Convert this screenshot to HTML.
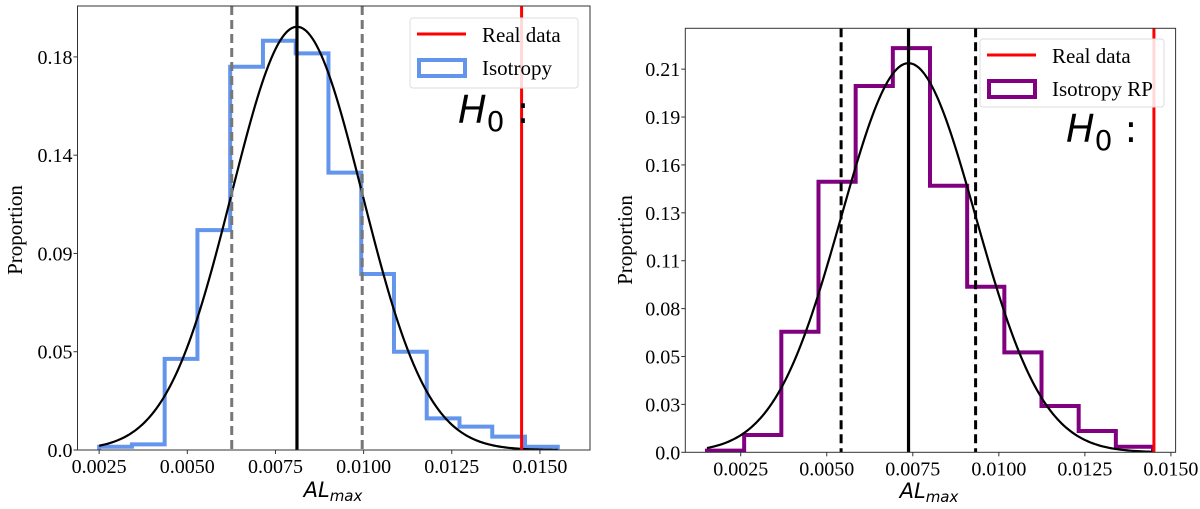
<!DOCTYPE html>
<html><head><meta charset="utf-8"><style>
html,body{margin:0;padding:0;background:#fff;}
svg{display:block;}
.tick{font-family:"Liberation Serif",serif;font-size:20px;fill:#000;}
.leg{font-family:"Liberation Serif",serif;font-size:21px;fill:#000;}
</style></head><body>
<svg id="fig" width="1200" height="509" viewBox="0 0 1200 509" xmlns="http://www.w3.org/2000/svg"></svg>
<script>
// Left panel data
const leftStart = 0.0025;
const leftBinWidth = 0.000929;
const leftHeights = [0.0015,0.0026,0.0417,0.1007,0.1755,0.1874,0.1816,0.127,0.0806,0.045,0.0145,0.0107,0.0061,0.0015];
const leftMean = 0.00811, leftSigma = 0.00185, leftPeak = 0.1938;
const leftLo = 0.00626, leftHi = 0.00996, leftReal = 0.01448;
const leftXTicks = [0.0025,0.005,0.0075,0.01,0.0125,0.015];
const leftXLabels = ["0.0025","0.0050","0.0075","0.0100","0.0125","0.0150"];
const leftYTicks = [0,0.045,0.09,0.135,0.18];
const leftYLabels = ["0.0","0.05","0.09","0.14","0.18"];
// Right panel data
const rightStart = 0.00152;
const rightBinWidth = 0.00108;
const rightHeights = [0.0009,0.0096,0.0667,0.1497,0.2027,0.2236,0.1475,0.0916,0.0553,0.0256,0.0118,0.0031];
const rightMean = 0.007376, rightSigma = 0.00195, rightPeak = 0.2153;
const rightLo = 0.005417, rightHi = 0.009325, rightReal = 0.014506;
const rightXTicks = [0.0025,0.005,0.0075,0.01,0.0125,0.015];
const rightXLabels = ["0.0025","0.0050","0.0075","0.0100","0.0125","0.0150"];
const rightYTicks = [0,0.0265,0.053,0.0795,0.106,0.1325,0.159,0.1855,0.212];
const rightYLabels = ["0.0","0.03","0.05","0.08","0.11","0.13","0.16","0.19","0.21"];

const NS="http://www.w3.org/2000/svg";
const svg=document.getElementById('fig');
function mk(tag,attrs,parent){const e=document.createElementNS(NS,tag);for(const k in attrs)e.setAttribute(k,attrs[k]);(parent||svg).appendChild(e);return e;}

function panel(cfg){
  const g=mk('g',{});
  
  
  const X=v=>cfg.L+(v-cfg.xmin)/(cfg.xmax-cfg.xmin)*(cfg.R-cfg.L);
  const Y=v=>cfg.B-(v-0)/(cfg.ymax)*(cfg.B-cfg.T);
  const cid='clip'+cfg.name;
  const cp=mk('clipPath',{id:cid},g);mk('rect',{x:cfg.L,y:cfg.T,width:cfg.R-cfg.L,height:cfg.B-cfg.T},cp);
  const pg=mk('g',{'clip-path':'url(#'+cid+')'},g);
  let d='M'+X(cfg.start)+','+Y(0);
  cfg.heights.forEach((h,i)=>{const x0=X(cfg.start+i*cfg.bw),x1=X(cfg.start+(i+1)*cfg.bw);d+=' L'+x0+','+Y(h)+' L'+x1+','+Y(h);});
  d+=' L'+X(cfg.start+cfg.heights.length*cfg.bw)+','+Y(0);
  const hist=mk('path',{d:d,fill:'none',stroke:cfg.color,'stroke-width':4,'stroke-linejoin':'miter'},pg);
  
  
  let gd='';
  const x0=cfg.start, x1=cfg.start+cfg.heights.length*cfg.bw;
  for(let i=0;i<=200;i++){const x=x0+(x1-x0)*i/200;const y=cfg.peak*Math.exp(-Math.pow(x-cfg.mean,2)/(2*cfg.sigma*cfg.sigma));gd+=(i?' L':'M')+X(x).toFixed(2)+','+Y(y).toFixed(2);}
  const curve=mk('path',{d:gd,fill:'none',stroke:'#000','stroke-width':2.2},pg);
  
  
  const ml=mk('line',{x1:X(cfg.mean),x2:X(cfg.mean),y1:cfg.T,y2:cfg.B,stroke:'#000','stroke-width':3.2},pg);
  
  
  [cfg.lo,cfg.hi].forEach(v=>{const l=mk('line',{x1:X(v),x2:X(v),y1:cfg.T,y2:cfg.B,stroke:cfg.dash,'stroke-width':3,'stroke-dasharray':'9,5'},pg);
    
    });
  const rl=mk('line',{x1:X(cfg.real),x2:X(cfg.real),y1:cfg.T,y2:cfg.B,stroke:'#ff0000','stroke-width':3},pg);
  
  
  mk('rect',{x:cfg.L,y:cfg.T,width:cfg.R-cfg.L,height:cfg.B-cfg.T,fill:'none',stroke:'#333','stroke-width':1},g);
  cfg.xt.forEach((v,i)=>{const x=X(v);mk('line',{x1:x,x2:x,y1:cfg.B,y2:cfg.B+4,stroke:'#333'},g);
    const t=mk('text',{x:x,y:cfg.B+23,'text-anchor':'middle',class:'tick'},g);t.textContent=cfg.xl[i];
    
    });
  cfg.yt.forEach((v,i)=>{const y=Y(v);mk('line',{x1:cfg.L-4,x2:cfg.L,y1:y,y2:y,stroke:'#333'},g);
    const t=mk('text',{x:cfg.L-5,y:y+7,'text-anchor':'end',class:'tick'},g);t.textContent=cfg.yl[i];
    
    });
  const yl=mk('text',{x:0,y:0,'text-anchor':'middle',class:'leg',transform:'translate('+cfg.ylx+','+cfg.yly+') rotate(-90)'},g);yl.textContent='Proportion';
  
  
  const xl=mk('text',{x:cfg.xlx,y:cfg.xly,'text-anchor':'middle','font-family':'"DejaVu Sans",sans-serif','font-style':'italic','font-size':'21'},g);
  xl.innerHTML='AL<tspan font-size="15" dy="4">max</tspan>';
  
  
  const lg=mk('g',{},g);
  
  
  mk('rect',{x:cfg.lgx,y:cfg.lgy,width:cfg.lgw,height:cfg.lgh,rx:3,fill:'#fff','fill-opacity':0.85,stroke:'#ddd'},lg);
  mk('line',{x1:cfg.lgx+7,x2:cfg.lgx+56,y1:cfg.lgy+16,y2:cfg.lgy+16,stroke:'#ff0000','stroke-width':3},lg);
  const t1=mk('text',{x:cfg.lgx+72,y:cfg.lgy+24,class:'leg'},lg);t1.textContent='Real data';
  
  
  mk('rect',{x:cfg.lgx+9,y:cfg.lgy+42,width:46,height:16,fill:'none',stroke:cfg.color,'stroke-width':4},lg);
  const t2=mk('text',{x:cfg.lgx+72,y:cfg.lgy+57,class:'leg'},lg);t2.textContent=cfg.histLabel;
  
  
  const h=mk('text',{x:cfg.hx,y:cfg.hy,'font-family':'"DejaVu Sans",sans-serif','font-size':'38'},g);
  h.innerHTML='<tspan font-style="italic">H</tspan><tspan font-size="28" dy="8">0</tspan><tspan dy="-8"> :</tspan>';
  
  
}
panel({name:'left-panel',L:77.5,R:590,T:6,B:450,xmin:0.001886,xmax:0.01642,ymax:0.2033,
  start:leftStart,bw:leftBinWidth,heights:leftHeights,mean:leftMean,sigma:leftSigma,peak:leftPeak,lo:leftLo,hi:leftHi,real:leftReal,
  color:'#6495ED',dash:'#777',xt:leftXTicks,xl:leftXLabels,yt:leftYTicks,yl:leftYLabels,ylx:22,yly:230,xlx:333,xly:497,
  lgx:410,lgy:18,lgw:168,lgh:70,histLabel:'Isotropy',hx:458,hy:123});
panel({name:'right-panel',L:685.3,R:1175.6,T:28.3,B:452.3,xmin:0.00089,xmax:0.015136,ymax:0.2346,
  start:rightStart,bw:rightBinWidth,heights:rightHeights,mean:rightMean,sigma:rightSigma,peak:rightPeak,lo:rightLo,hi:rightHi,real:rightReal,
  color:'#800080',dash:'#000',xt:rightXTicks,xl:rightXLabels,yt:rightYTicks,yl:rightYLabels,ylx:632,yly:240,xlx:929,xly:498,
  lgx:980,lgy:39,lgw:184,lgh:68,histLabel:'Isotropy RP',hx:1066,hy:142});
</script>
</body></html>
